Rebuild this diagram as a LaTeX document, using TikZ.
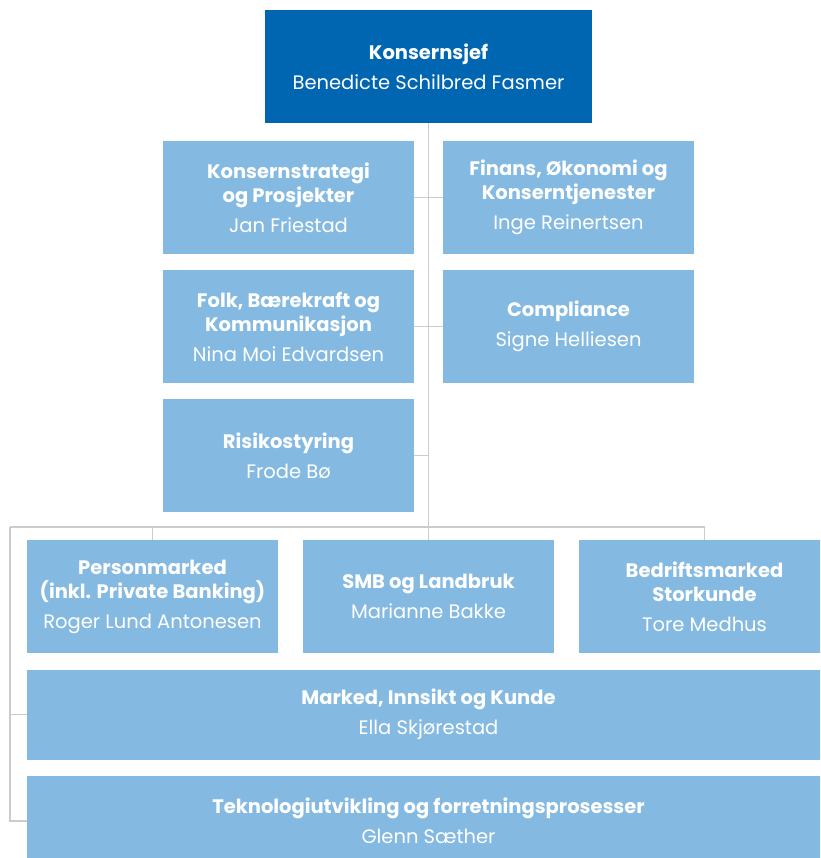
\documentclass[tikz,border=0pt]{standalone}
\usepackage{fontspec}
\setmainfont{Poppins}
\usepackage{tikz}
\usetikzlibrary{calc}

\definecolor{ceoblue}{RGB}{0,102,178}
\definecolor{unitblue}{RGB}{132,186,226}
\definecolor{linkgray}{RGB}{204,204,204}

\begin{document}
\begin{tikzpicture}[x=1pt,y=-1pt,
    every node/.style={fill=unitblue,text=white,inner sep=0pt,align=center,
      font=\fontsize{19.5}{24}\selectfont,minimum width=251pt,minimum height=113pt},
    ceo/.style={fill=ceoblue,minimum width=327pt},
    wide/.style={minimum width=803pt,minimum height=90pt},
    link/.style={draw=linkgray,line width=1.4pt}]
      \useasboundingbox (0,0) rectangle (820,858);
      \clip (0,0) rectangle (820,858);

      \node[ceo] (chief) at (428.5,66.5) {\textbf{Konsernsjef}\\[6pt]Benedicte Schilbred Fasmer};

      \node (strategy) at (288.5,197.5) {\textbf{Konsernstrategi}\\\textbf{og Prosjekter}\\[6pt]Jan Friestad};
      \node (finance) at (568.5,197.5) {\textbf{Finans, Økonomi og}\\\textbf{Konserntjenester}\\[6pt]Inge Reinertsen};
      \node (people) at (288.5,326.5) {\textbf{Folk, Bærekraft og}\\\textbf{Kommunikasjon}\\[6pt]Nina Moi Edvardsen};
      \node (compliance) at (568.5,326.5) {\textbf{Compliance}\\[6pt]Signe Helliesen};
      \node (risk) at (288.5,455.5) {\textbf{Risikostyring}\\[6pt]Frode Bø};

      \coordinate (bar) at (428.5,527);
      \coordinate (barleft) at (10,527);

      \node (retail) at (152.5,596.5) {\textbf{Personmarked}\\\textbf{(inkl. Private Banking)}\\[6pt]Roger Lund Antonesen};
      \node (sme) at (428.5,596.5) {\textbf{SMB og Landbruk}\\[6pt]Marianne Bakke};
      \node (corporate) at (704.5,596.5) {\textbf{Bedriftsmarked}\\\textbf{Storkunde}\\[6pt]Tore Medhus};
      \node[wide] (market) at (428.5,714.5) {\textbf{Marked, Innsikt og Kunde}\\[6pt]Ella Skjørestad};
      \node[wide] (tech) at (428.5,821) {\textbf{Teknologiutvikling og forretningsprosesser}\\[6pt]Glenn Sæther};

      \draw[link] (chief.south) -- (bar);
      \draw[link] (strategy.east) -- (finance.west);
      \draw[link] (people.east) -- (compliance.west);
      \draw[link] (risk.east) -- (risk.east -| chief.south);
      \draw[link] (barleft) -- (bar -| corporate.north);
      \draw[link] (retail.north) -- (retail.north |- bar);
      \draw[link] (sme.north) -- (bar);
      \draw[link] (corporate.north) -- (corporate.north |- bar);
      \draw[link] (barleft) |- (tech.west);
      \draw[link] (market.west -| barleft) -- (market.west);
    \end{tikzpicture}
\end{document}
